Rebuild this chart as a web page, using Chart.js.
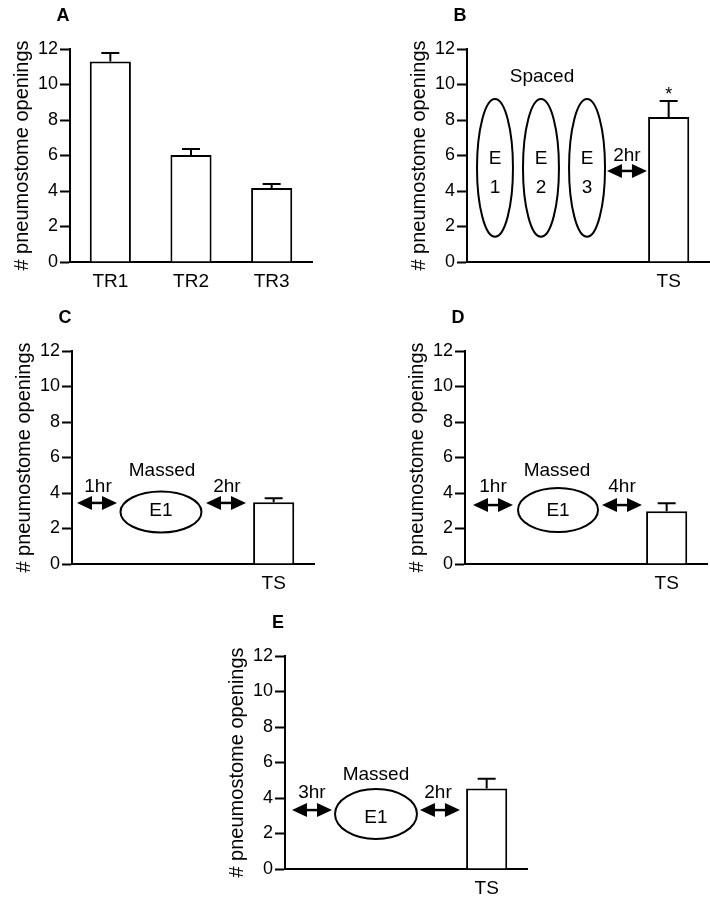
<!DOCTYPE html>
<html lang="en">
<head>
<meta charset="UTF-8">
<title>Pneumostome openings</title>
<script src="https://cdn.jsdelivr.net/npm/chart.js"></script>
<style>
  body { margin: 0; background: #fff; overflow: hidden; }
  #wrap { position: relative; width: 710px; height: 900px; }
  #wrap canvas { position: absolute; }
</style>
</head>
<body>
<div id="wrap">
  <canvas id="chartA" width="314" height="300" style="left:0px;top:0px"></canvas>
  <canvas id="chartB" width="314" height="300" style="left:397px;top:0px"></canvas>
  <canvas id="chartC" width="314" height="300" style="left:2px;top:302px"></canvas>
  <canvas id="chartD" width="314" height="300" style="left:395px;top:302px"></canvas>
  <canvas id="chartE" width="314" height="300" style="left:215px;top:607px"></canvas>
</div>
<script>
// data
var yTitle = "# pneumostome openings";
var yMax = 12;
var yStep = 2;

var categoriesA = ["TR1", "TR2", "TR3"];
var valuesA = [11.3, 6.03, 4.17];
var errorsA = [0.47, 0.34, 0.22];

// panels B-E only have a bar in the last slot
var categoriesTS = ["", "", "TS"];
var valuesB = [null, null, 8.17];
var errorsB = [0, 0, 0.9];
var valuesC = [null, null, 3.48];
var errorsC = [0, 0, 0.22];
var valuesD = [null, null, 2.97];
var errorsD = [0, 0, 0.45];
var valuesE = [null, null, 4.53];
var errorsE = [0, 0, 0.56];

var FONT = "'Liberation Sans', Arial, Helvetica, sans-serif";

// draws error caps, the protocol sketches and the panel letter
var annotate = {
  id: "annotate",
  afterDatasetsDraw: function (chart, args, opts) {
    var ctx = chart.ctx;
    var xs = chart.scales.x, ys = chart.scales.y;
    var px = function (v) { return xs.getPixelForValue(v); };
    var py = function (v) { return ys.getPixelForValue(v); };
    var ds = chart.data.datasets[0];
    var meta = chart.getDatasetMeta(0);
    ctx.save();
    ctx.strokeStyle = "#000";
    ctx.fillStyle = "#000";
    ctx.lineWidth = 2;

    // upper error bars
    meta.data.forEach(function (bar, i) {
      var v = ds.data[i];
      if (v == null) return;
      var yTop = py(v + opts.errors[i]);
      ctx.beginPath();
      ctx.moveTo(bar.x, bar.y);
      ctx.lineTo(bar.x, yTop);
      ctx.moveTo(bar.x - 9, yTop);
      ctx.lineTo(bar.x + 9, yTop);
      ctx.stroke();
    });

    (opts.shapes || []).forEach(function (s) {
      if (s.type === "ellipse") {
        var cx = px(s.x), cy = py(s.y);
        var rx = Math.abs(px(s.x + s.rx) - cx);
        var ry = Math.abs(py(s.y - s.ry) - cy);
        ctx.lineWidth = 2;
        ctx.beginPath();
        ctx.ellipse(cx, cy, rx, ry, 0, 0, Math.PI * 2);
        ctx.stroke();
      } else if (s.type === "arrow") {
        var x1 = px(s.x1), x2 = px(s.x2), y = py(s.y);
        var hl = 15, hh = 7;
        ctx.lineWidth = 2.5;
        ctx.beginPath();
        ctx.moveTo(x1 + hl - 1, y);
        ctx.lineTo(x2 - hl + 1, y);
        ctx.stroke();
        ctx.beginPath();
        ctx.moveTo(x1, y);
        ctx.lineTo(x1 + hl, y - hh);
        ctx.lineTo(x1 + hl, y + hh);
        ctx.closePath();
        ctx.fill();
        ctx.beginPath();
        ctx.moveTo(x2, y);
        ctx.lineTo(x2 - hl, y - hh);
        ctx.lineTo(x2 - hl, y + hh);
        ctx.closePath();
        ctx.fill();
      } else if (s.type === "text") {
        ctx.font = (s.size || 19) + "px " + FONT;
        ctx.textAlign = "center";
        ctx.textBaseline = "middle";
        ctx.fillText(s.text, px(s.x), py(s.y));
      }
    });

    // panel letter
    ctx.font = "bold 18px " + FONT;
    ctx.textAlign = "center";
    ctx.textBaseline = "middle";
    ctx.fillText(opts.letter, chart.chartArea.left - 7, chart.chartArea.top - 33);
    ctx.restore();
  }
};

function makeChart(id, letter, labels, values, errors, shapes) {
  return new Chart(document.getElementById(id), {
    type: "bar",
    data: {
      labels: labels,
      datasets: [{
        data: values,
        backgroundColor: "#fff",
        borderColor: "#000",
        borderWidth: 2,
        barPercentage: 0.51,
        categoryPercentage: 1
      }]
    },
    options: {
      responsive: false,
      animation: false,
      layout: { padding: { left: 0, top: 49, right: 2, bottom: 0 } },
      plugins: {
        legend: { display: false },
        tooltip: { enabled: false },
        annotate: { letter: letter, errors: errors, shapes: shapes }
      },
      scales: {
        x: {
          offset: true,
          afterFit: function (s) { s.height = 38; },
          grid: { display: true, drawOnChartArea: false, drawTicks: false },
          border: { display: true, color: "#000", width: 2 },
          ticks: { color: "#000", padding: 8, font: { family: FONT, size: 19 } }
        },
        y: {
          min: 0,
          max: yMax,
          afterFit: function (s) { s.width = 70; },
          grid: { drawOnChartArea: false, drawTicks: true, tickLength: 10, tickColor: "#000", tickWidth: 2 },
          border: { display: true, color: "#000", width: 2 },
          ticks: { stepSize: yStep, color: "#000", padding: 2, font: { family: FONT, size: 18 } },
          title: {
            display: true,
            text: yTitle,
            color: "#000",
            padding: { top: 10, bottom: 0 },
            font: { family: FONT, size: 20 }
          }
        }
      }
    },
    plugins: [annotate]
  });
}

makeChart("chartA", "A", categoriesA, valuesA, errorsA, []);

makeChart("chartB", "B", categoriesTS, valuesB, errorsB, [
  { type: "text", x: 0.43, y: 10.42, text: "Spaced" },
  { type: "ellipse", x: -0.153, y: 5.3, rx: 0.223, ry: 3.88 },
  { type: "ellipse", x: 0.417, y: 5.3, rx: 0.223, ry: 3.88 },
  { type: "ellipse", x: 0.988, y: 5.3, rx: 0.223, ry: 3.88 },
  { type: "text", x: -0.153, y: 5.8, text: "E" },
  { type: "text", x: -0.153, y: 4.2, text: "1" },
  { type: "text", x: 0.417, y: 5.8, text: "E" },
  { type: "text", x: 0.417, y: 4.2, text: "2" },
  { type: "text", x: 0.988, y: 5.8, text: "E" },
  { type: "text", x: 0.988, y: 4.2, text: "3" },
  { type: "arrow", x1: 1.235, x2: 1.731, y: 5.13 },
  { type: "text", x: 1.483, y: 5.97, text: "2hr" },
  { type: "text", x: 2.0, y: 9.4, text: "*", size: 18 }
]);

makeChart("chartC", "C", categoriesTS, valuesC, errorsC, [
  { type: "arrow", x1: -0.438, x2: 0.058, y: 3.44 },
  { type: "text", x: -0.178, y: 4.34, text: "1hr" },
  { type: "text", x: 0.616, y: 5.24, text: "Massed" },
  { type: "ellipse", x: 0.603, y: 2.93, rx: 0.502, ry: 1.155 },
  { type: "text", x: 0.603, y: 2.99, text: "E1" },
  { type: "arrow", x1: 1.161, x2: 1.657, y: 3.44 },
  { type: "text", x: 1.421, y: 4.34, text: "2hr" }
]);

makeChart("chartD", "D", categoriesTS, valuesD, errorsD, [
  { type: "arrow", x1: -0.401, x2: 0.095, y: 3.32 },
  { type: "text", x: -0.153, y: 4.34, text: "1hr" },
  { type: "text", x: 0.64, y: 5.24, text: "Massed" },
  { type: "ellipse", x: 0.653, y: 3.04, rx: 0.496, ry: 1.24 },
  { type: "text", x: 0.653, y: 2.99, text: "E1" },
  { type: "arrow", x1: 1.198, x2: 1.694, y: 3.32 },
  { type: "text", x: 1.446, y: 4.34, text: "4hr" }
]);

makeChart("chartE", "E", categoriesTS, valuesE, errorsE, [
  { type: "arrow", x1: -0.413, x2: 0.083, y: 3.32 },
  { type: "text", x: -0.166, y: 4.28, text: "3hr" },
  { type: "text", x: 0.628, y: 5.3, text: "Massed" },
  { type: "ellipse", x: 0.628, y: 3.1, rx: 0.508, ry: 1.41 },
  { type: "text", x: 0.628, y: 2.87, text: "E1" },
  { type: "arrow", x1: 1.173, x2: 1.669, y: 3.32 },
  { type: "text", x: 1.397, y: 4.28, text: "2hr" }
]);
</script>
</body>
</html>
